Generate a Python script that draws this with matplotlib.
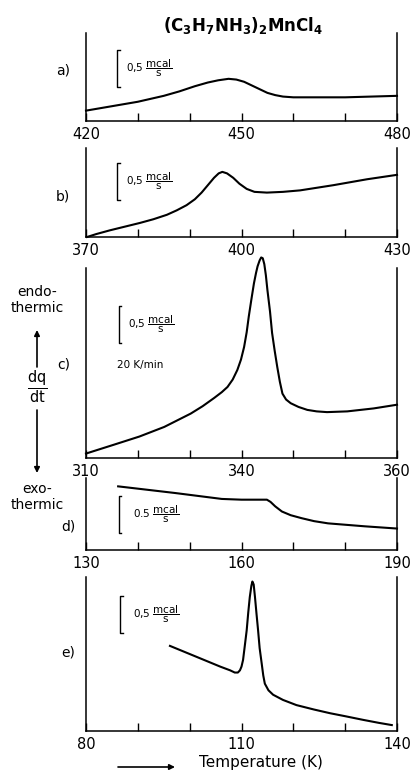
import matplotlib
matplotlib.use("Agg")
import matplotlib.pyplot as plt

# DSC traces, dq/dt in mcal/s
temp_a = [420, 425, 430, 435, 438, 441, 443.5, 445.5, 447.5, 449, 450.5, 452, 453.5, 455, 456.5, 458,
          460, 465, 470, 475, 480]
dqdt_a = [0.14, 0.20, 0.26, 0.34, 0.40, 0.47, 0.52, 0.55, 0.57, 0.56, 0.53, 0.48, 0.43, 0.38, 0.35, 0.33,
          0.32, 0.32, 0.32, 0.33, 0.34]

temp_b = [370.2, 372, 374.6, 377.5, 380.4, 383, 385.6, 387.5, 389.4, 391, 392.3, 393.5, 394.7, 395.6,
          396.3, 397.2, 398.4, 399.6, 401, 402.5, 404.9, 408, 411.3, 417.7, 424.2, 430]
dqdt_b = [0.00, 0.04, 0.09, 0.14, 0.19, 0.24, 0.30, 0.36, 0.43, 0.51, 0.60, 0.70, 0.80, 0.86,
          0.88, 0.86, 0.80, 0.72, 0.65, 0.61, 0.60, 0.61, 0.63, 0.70, 0.78, 0.84]

temp_c = [310.0, 315.4, 320.3, 325.1, 330.2, 332.5, 334.7, 336.2, 337.3, 338.3, 339.2, 339.9, 340.5,
          341.0, 341.4, 341.9, 342.4, 342.8, 343.1, 343.5, 343.8, 344.1, 344.4, 344.7, 345.0, 345.5,
          345.9, 346.4, 346.9, 347.4, 347.9, 348.6, 349.5, 351.0, 352.7, 354.5, 356.5, 360.4, 365.5, 370.0]
dqdt_c = [0.06, 0.18, 0.29, 0.42, 0.60, 0.70, 0.81, 0.89, 0.96, 1.06, 1.19, 1.33, 1.50,
          1.70, 1.91, 2.14, 2.36, 2.50, 2.59, 2.67, 2.71, 2.70, 2.62, 2.47, 2.27, 1.98,
          1.69, 1.45, 1.23, 1.03, 0.87, 0.79, 0.74, 0.69, 0.65, 0.63, 0.62, 0.63, 0.67, 0.72]

temp_d = [136.2, 147.2, 156.2, 160, 164.9, 165.6, 166.5, 167.8, 169.5, 171.6, 174, 176.7, 183.8, 190]
dqdt_d = [0.86, 0.77, 0.69, 0.68, 0.68, 0.65, 0.59, 0.52, 0.47, 0.43, 0.39, 0.36, 0.32, 0.29]

temp_e = [96.2, 101.4, 105.9, 107.8, 108.7, 109.3, 109.7, 110.0, 110.3, 110.6, 111.0, 111.3, 111.6,
          111.9, 112.1, 112.35, 112.6, 112.9, 113.2, 113.5, 113.9, 114.2, 114.5, 115.2, 116.1, 118,
          120.6, 124, 127.1, 130, 133.5, 136.5, 139.0]
dqdt_e = [1.15, 1.00, 0.87, 0.82, 0.79, 0.79, 0.82, 0.87, 0.96, 1.13, 1.36, 1.60, 1.81,
          1.96, 2.02, 1.98, 1.81, 1.58, 1.36, 1.12, 0.91, 0.75, 0.64, 0.55, 0.49, 0.42,
          0.35, 0.29, 0.24, 0.20, 0.15, 0.11, 0.08]

panel_names = ["a)", "b)", "c)", "d)", "e)"]
x_ranges = [(420, 480), (370, 430), (310, 370), (130, 190), (80, 140)]
x_labels = [["420", "450", "480"], ["370", "400", "430"], ["310", "340", "360"],
            ["130", "160", "190"], ["80", "110", "140"]]
scale_text = ["0,5", "0,5", "0,5", "0.5", "0,5"]
scale_value = 0.5

traces = [(temp_a, dqdt_a), (temp_b, dqdt_b), (temp_c, dqdt_c), (temp_d, dqdt_d), (temp_e, dqdt_e)]

# layout in pixels of the 415x775 picture
W, H = 415.0, 775.0
left_px, right_px = 86, 397
rows_px = [(33, 121), (148, 237), (268, 458), (478, 550), (577, 731)]
px_per_unit = 74.0
bar_bottom = [0.46, 0.50, 1.55, 0.23, 1.33]
bar_x = [0.10, 0.10, 0.106, 0.106, 0.11]
text_x = [0.13, 0.13, 0.135, 0.15, 0.15]
name_pos = [(63, 71), (63, 197), (64, 365), (68, 527), (68, 652)]

fig = plt.figure(figsize=(W / 100, H / 100), dpi=100)

for inx in range(5):
    top, bot = rows_px[inx]
    ax = fig.add_axes([left_px / W, 1 - bot / H, (right_px - left_px) / W, (bot - top) / H])
    temps, vals = traces[inx]
    ax.plot(temps, vals, color="black", lw=1.5, clip_on=False, solid_joinstyle="round")
    x0, x1 = x_ranges[inx]
    ax.set_xlim(x0, x1)
    ax.set_ylim(0, (bot - top) / px_per_unit)

    ticks = list(range(x0, x1 + 1, 10))
    labels = ["" for t in ticks]
    labels[0] = x_labels[inx][0]
    labels[3] = x_labels[inx][1]
    labels[-1] = x_labels[inx][2]
    ax.set_xticks(ticks, labels=labels)
    ax.set_yticks([])
    ax.tick_params(axis="x", direction="in", length=5.5, width=1.0, pad=4, labelsize=10.5)
    ax.spines["top"].set_visible(False)
    for s in ["left", "right", "bottom"]:
        ax.spines[s].set_linewidth(1.1)

    # scale bar 0,5 mcal/s
    tr = ax.get_yaxis_transform()
    yb = bar_bottom[inx]
    ax.plot([bar_x[inx] + 0.008, bar_x[inx], bar_x[inx], bar_x[inx] + 0.008],
            [yb, yb, yb + scale_value, yb + scale_value],
            color="black", lw=1.0, transform=tr, clip_on=False)
    ax.text(text_x[inx], yb + scale_value / 2,
            scale_text[inx] + r" $\dfrac{\mathrm{mcal}}{\mathrm{s}}$",
            transform=tr, fontsize=7.5, va="center", ha="left")

    if inx == 2:
        ax.text(0.10, 1.26, "20 K/min", transform=tr, fontsize=7.5, va="center", ha="left")

    nx, ny = name_pos[inx]
    fig.text(nx / W, 1 - ny / H, panel_names[inx], fontsize=10, ha="center", va="center")

fig.text(243 / W, 1 - 25 / H, r"$\mathbf{(C_3H_7NH_3)_2MnCl_4}$", fontsize=12,
         ha="center", va="center")

fig.text(37 / W, 1 - 300 / H, "endo-\nthermic", fontsize=10, ha="center", va="center",
         multialignment="center", linespacing=1.15)
fig.text(37 / W, 1 - 387 / H, r"$\frac{\mathrm{dq}}{\mathrm{dt}}$", fontsize=15,
         ha="center", va="center")
fig.text(37 / W, 1 - 497 / H, "exo-\nthermic", fontsize=10, ha="center", va="center",
         multialignment="center", linespacing=1.15)

arrow = dict(arrowstyle="-|>", color="black", lw=1.2, mutation_scale=8, shrinkA=0, shrinkB=0)
fig.axes[0].annotate("", xy=(37 / W, 1 - 330 / H), xytext=(37 / W, 1 - 367 / H),
                     xycoords="figure fraction", arrowprops=arrow, annotation_clip=False)
fig.axes[0].annotate("", xy=(37 / W, 1 - 473 / H), xytext=(37 / W, 1 - 410 / H),
                     xycoords="figure fraction", arrowprops=arrow, annotation_clip=False)
fig.axes[0].annotate("", xy=(175 / W, 1 - 767 / H), xytext=(118 / W, 1 - 767 / H),
                     xycoords="figure fraction", arrowprops=arrow, annotation_clip=False)
fig.text(261 / W, 1 - 763 / H, "Temperature (K)", fontsize=11, ha="center", va="center")

plt.savefig("out.png", dpi=100)
